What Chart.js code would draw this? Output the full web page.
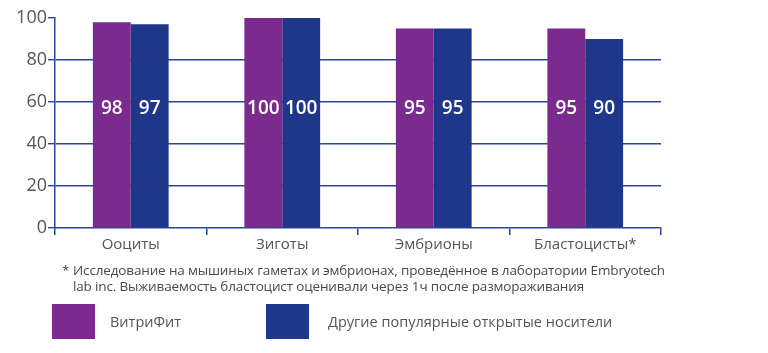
<!DOCTYPE html>
<html>
<head>
<meta charset="utf-8">
<script src="https://cdn.jsdelivr.net/npm/chart.js@4"></script>
<style>
  html, body { margin:0; padding:0; background:#fff; }
  #wrap { position:relative; width:768px; height:353px; overflow:hidden; font-family:"Open Sans", sans-serif; }
  canvas { position:absolute; left:0; top:0; }
  .note { position:absolute; left:62px; top:262px; font-size:13.5px; line-height:16px; color:#4a4a4a; letter-spacing:-0.15px; }
  .note .star { position:absolute; left:0; top:0; }
  .note .txt { position:absolute; left:11px; top:0; white-space:nowrap; }
  .lg { position:absolute; width:43px; height:35px; top:304px; }
  .lgt { position:absolute; top:312px; font-size:14.5px; color:#555; white-space:nowrap; }
</style>
</head>
<body>
<div id="wrap">
  <canvas id="c" width="768" height="353"></canvas>
  <div class="note"><span class="star">*</span><span class="txt">Исследование на мышиных гаметах и эмбрионах, проведённое в лаборатории Embryotech<br>lab inc. Выживаемость бластоцист оценивали через 1ч после размораживания</span></div>
  <div class="lg" id="lg1" style="left:52px;"></div>
  <div class="lgt" id="lt1" style="left:110px;"></div>
  <div class="lg" id="lg2" style="left:266px;"></div>
  <div class="lgt" id="lt2" style="left:328px;"></div>
</div>
<script>
const categories = ["Ооциты", "Зиготы", "Эмбрионы", "Бластоцисты*"];
const seriesNames = ["ВитриФит", "Другие популярные открытые носители"];
const vitrifit = [98, 100, 95, 95];
const others = [97, 100, 95, 90];
const yTicks = [0, 20, 40, 60, 80, 100];

const PURPLE = "#7b2a8e";
const BLUE = "#1f378a";
const NAVY = "#2b4797";

document.getElementById("lg1").style.background = PURPLE;
document.getElementById("lg2").style.background = BLUE;
document.getElementById("lt1").textContent = seriesNames[0];
document.getElementById("lt2").textContent = seriesNames[1];

const valueLabels = {
  id: "valueLabels",
  afterDatasetsDraw(chart) {
    const ctx = chart.ctx;
    const y = chart.scales.y.getPixelForValue(57);
    ctx.save();
    ctx.fillStyle = "#ffffff";
    ctx.font = "600 19px 'Open Sans', sans-serif";
    ctx.textAlign = "center";
    ctx.textBaseline = "middle";
    chart.data.datasets.forEach((ds, i) => {
      chart.getDatasetMeta(i).data.forEach((bar, j) => {
        ctx.fillText(String(ds.data[j]), bar.x, y);
      });
    });
    ctx.restore();
  }
};

new Chart(document.getElementById("c"), {
  type: "bar",
  data: {
    labels: categories,
    datasets: [
      { label: seriesNames[0], data: vitrifit, backgroundColor: PURPLE, borderWidth: 0 },
      { label: seriesNames[1], data: others, backgroundColor: BLUE, borderWidth: 0 }
    ]
  },
  options: {
    responsive: false,
    animation: false,
    devicePixelRatio: 1,
    layout: { padding: { top: 18, right: 107, left: 0, bottom: 0 } },
    plugins: { legend: { display: false }, tooltip: { enabled: false } },
    datasets: { bar: { categoryPercentage: 0.5, barPercentage: 1.0 } },
    scales: {
      x: {
        afterFit(s) { s.height = 125; },
        grid: { display: true, drawOnChartArea: false, offset: true, tickLength: 7, color: NAVY, lineWidth: 1.5 },
        border: { display: true, color: NAVY, width: 1.5 },
        ticks: { color: "#555", font: { family: "'Open Sans', sans-serif", size: 15 }, padding: 1 }
      },
      y: {
        min: 0, max: 100,
        afterFit(s) { s.width = 55; },
        afterBuildTicks(s) { s.ticks = yTicks.map(v => ({ value: v })); },
        grid: {
          color: (c) => (c.tick && (c.tick.value === 100 || c.tick.value === 0)) ? "rgba(0,0,0,0)" : NAVY,
          tickColor: NAVY,
          lineWidth: 1.4,
          tickLength: 7
        },
        border: { display: true, color: NAVY, width: 1.5 },
        ticks: { color: "#555", font: { family: "'Open Sans', sans-serif", size: 18 }, padding: 1 }
      }
    }
  },
  plugins: [valueLabels]
});
</script>
</body>
</html>
